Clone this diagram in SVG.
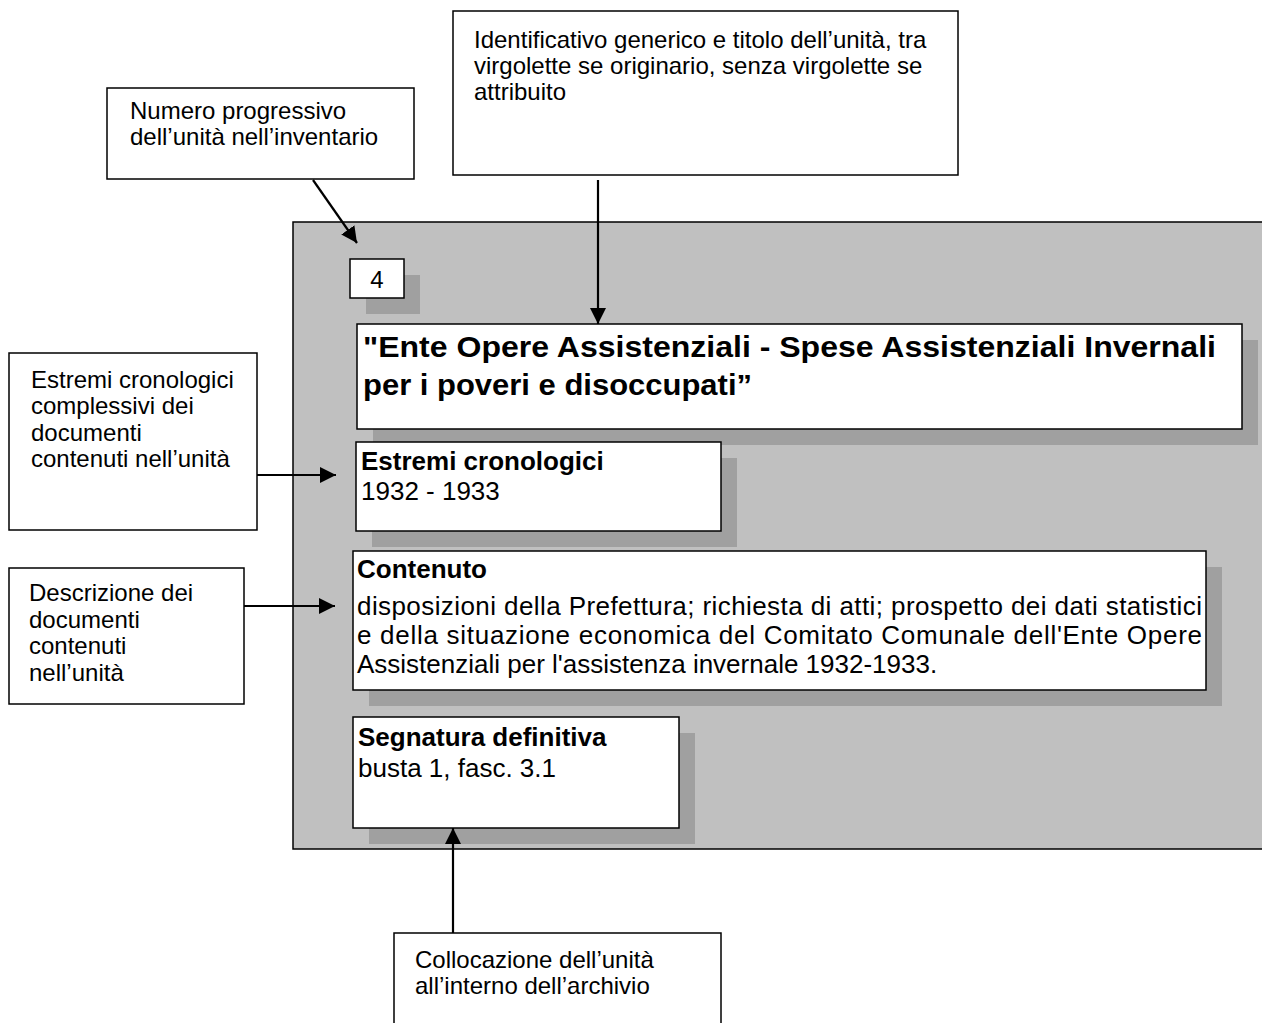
<svg xmlns="http://www.w3.org/2000/svg" width="1262" height="1023" viewBox="0 0 1262 1023">
<style>
  .box{fill:#ffffff;stroke:#000000;stroke-width:1.5}
  .shadow{fill:#a0a0a0;stroke:none}
  .panel{fill:#c0c0c0;stroke:#000000;stroke-width:1.5}
  .note{font-family:"Liberation Sans",Arial,sans-serif;font-size:24px;fill:#000000}
  .body{font-family:"Liberation Sans",Arial,sans-serif;font-size:26px;fill:#000000}
  .head{font-family:"Liberation Sans",Arial,sans-serif;font-size:26px;font-weight:bold;fill:#000000}
  .title{font-family:"Liberation Sans",Arial,sans-serif;font-size:30px;font-weight:bold;fill:#000000}
  .conn{stroke:#000000;stroke-width:2.2;fill:none;marker-end:url(#arrow)}
</style>
<defs>
  <marker id="arrow" markerUnits="userSpaceOnUse" markerWidth="17" markerHeight="16" refX="16" refY="8" orient="auto">
    <path d="M0,0 L16,8 L0,16 z" fill="#000000"/>
  </marker>
</defs>
<rect width="1262" height="1023" fill="#ffffff"/>

<g id="panel">
  <rect class="panel" x="293" y="222" width="1000" height="627"/>
</g>

<g id="node-numero">
  <rect class="shadow" x="366" y="275" width="54" height="39"/>
  <rect class="box" x="350" y="259" width="54" height="39"/>
  <text class="note" x="377" y="288" text-anchor="middle">4</text>
</g>

<g id="node-titolo">
  <rect class="shadow" x="373" y="340" width="885" height="105"/>
  <rect class="box" x="357" y="324" width="885" height="105"/>
  <text class="title" x="363" y="357" textLength="853" lengthAdjust="spacingAndGlyphs">"Ente Opere Assistenziali - Spese Assistenziali Invernali</text>
  <text class="title" x="363" y="395" textLength="389" lengthAdjust="spacingAndGlyphs">per i poveri e disoccupati”</text>
</g>

<g id="node-estremi">
  <rect class="shadow" x="372" y="458" width="365" height="89"/>
  <rect class="box" x="356" y="442" width="365" height="89"/>
  <text class="head" x="361" y="470">Estremi cronologici</text>
  <text class="body" x="361" y="500">1932 - 1933</text>
</g>

<g id="node-contenuto">
  <rect class="shadow" x="369" y="567" width="853" height="139"/>
  <rect class="box" x="353" y="551" width="853" height="139"/>
  <text class="head" x="357" y="578">Contenuto</text>
  <text class="body" x="357" y="615" textLength="845" lengthAdjust="spacing">disposizioni della Prefettura; richiesta di atti; prospetto dei dati statistici</text>
  <text class="body" x="357" y="644" textLength="845" lengthAdjust="spacing">e della situazione economica del Comitato Comunale dell'Ente Opere</text>
  <text class="body" x="357" y="673">Assistenziali per l'assistenza invernale 1932-1933.</text>
</g>

<g id="node-segnatura">
  <rect class="shadow" x="369" y="733" width="326" height="111"/>
  <rect class="box" x="353" y="717" width="326" height="111"/>
  <text class="head" x="358" y="746">Segnatura definitiva</text>
  <text class="body" x="358" y="777">busta 1, fasc. 3.1</text>
</g>

<g id="note-numero">
  <rect class="box" x="107" y="88" width="307" height="91"/>
  <text class="note" x="130" y="119">Numero progressivo</text>
  <text class="note" x="130" y="145">dell’unità nell’inventario</text>
</g>

<g id="note-identificativo">
  <rect class="box" x="453" y="11" width="505" height="164"/>
  <text class="note" x="474" y="48">Identificativo generico e titolo dell’unità, tra</text>
  <text class="note" x="474" y="74">virgolette se originario, senza virgolette se</text>
  <text class="note" x="474" y="100">attribuito</text>
</g>

<g id="note-estremi">
  <rect class="box" x="9" y="353" width="248" height="177"/>
  <text class="note" x="31" y="388">Estremi cronologici</text>
  <text class="note" x="31" y="414">complessivi dei</text>
  <text class="note" x="31" y="441">documenti</text>
  <text class="note" x="31" y="467">contenuti nell’unità</text>
</g>

<g id="note-descrizione">
  <rect class="box" x="9" y="568" width="235" height="136"/>
  <text class="note" x="29" y="601">Descrizione dei</text>
  <text class="note" x="29" y="628">documenti</text>
  <text class="note" x="29" y="654">contenuti</text>
  <text class="note" x="29" y="681">nell’unità</text>
</g>

<g id="note-collocazione">
  <rect class="box" x="394" y="933" width="327" height="110"/>
  <text class="note" x="415" y="968">Collocazione dell’unità</text>
  <text class="note" x="415" y="994">all’interno dell’archivio</text>
</g>

<g id="connectors">
  <line class="conn" x1="313" y1="180" x2="357" y2="243"/>
  <line class="conn" x1="598" y1="180" x2="598" y2="324"/>
  <line class="conn" x1="257" y1="475" x2="336" y2="475"/>
  <line class="conn" x1="244" y1="606" x2="335" y2="606"/>
  <line class="conn" x1="453" y1="933" x2="453" y2="828"/>
</g>
</svg>
